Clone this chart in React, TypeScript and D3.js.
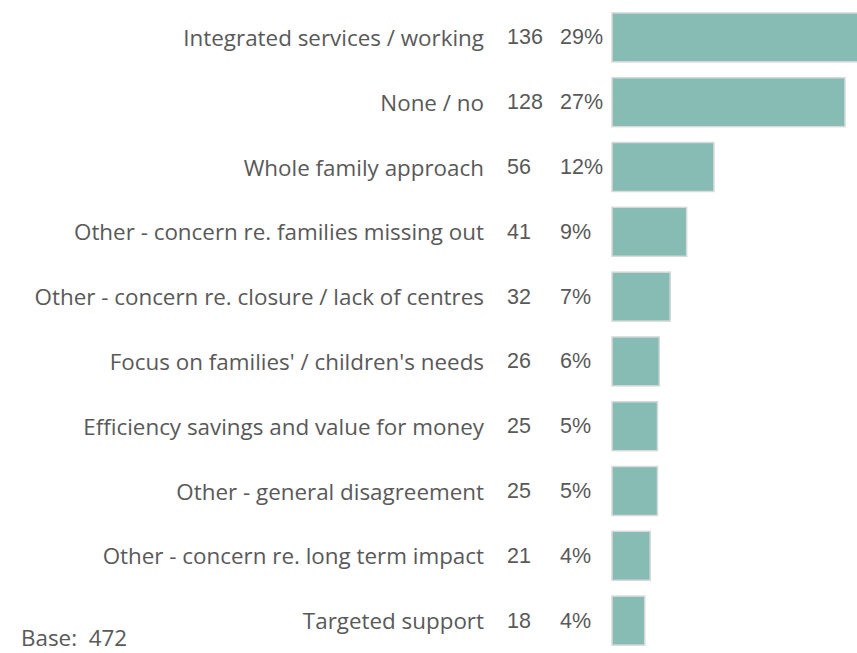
import React from "react";
import * as d3 from "d3";

const categories = [
  "Integrated services / working",
  "None / no",
  "Whole family approach",
  "Other - concern re. families missing out",
  "Other - concern re. closure / lack of centres",
  "Focus on families' / children's needs",
  "Efficiency savings and value for money",
  "Other - general disagreement",
  "Other - concern re. long term impact",
  "Targeted support",
];
const counts = [136, 128, 56, 41, 32, 26, 25, 25, 21, 18];
const percents = ["29%", "27%", "12%", "9%", "7%", "6%", "5%", "5%", "4%", "4%"];
const baseLabel = "Base:\u00a0\u00a0472";

const W = 857;
const H = 653;

export default function App() {
  const y = d3
    .scaleBand<string>()
    .domain(categories)
    .range([5, 653])
    .paddingInner(0.244)
    .paddingOuter(0.122);
  const x = d3.scaleLinear().domain([0, 128]).range([612, 845]);
  const font = "'Open Sans', sans-serif";
  const numFont = "'Liberation Sans', Arial, sans-serif";
  const grey = "#595959";
  return (
    <svg
      width={W}
      height={H}
      style={{ position: "absolute", left: 0, top: 0, background: "#fff" }}
    >
      {categories.map((c, i) => {
        const yc = (y(c) as number) + y.bandwidth() / 2;
        return (
          <g key={c}>
            <rect
              x={x(0)}
              y={y(c)}
              width={x(counts[i]) - x(0)}
              height={y.bandwidth()}
              fill="#87bcb5"
              stroke="#d9d9d9"
              strokeWidth={1.5}
            />
            <text
              x={484}
              y={yc}
              textAnchor="end"
              dominantBaseline="central"
              fontFamily={font}
              fontSize={22.4}
              fill={grey}
            >
              {c}
            </text>
            <text
              x={507}
              y={yc}
              dominantBaseline="central"
              fontFamily={numFont}
              fontSize={21.5}
              fill={grey}
            >
              {counts[i]}
            </text>
            <text
              x={560}
              y={yc}
              dominantBaseline="central"
              fontFamily={numFont}
              fontSize={21.5}
              fill={grey}
            >
              {percents[i]}
            </text>
          </g>
        );
      })}
      <text x={21} y={646} fontFamily={font} fontSize={22.4} fill={grey}>
        {baseLabel}
      </text>
    </svg>
  );
}
